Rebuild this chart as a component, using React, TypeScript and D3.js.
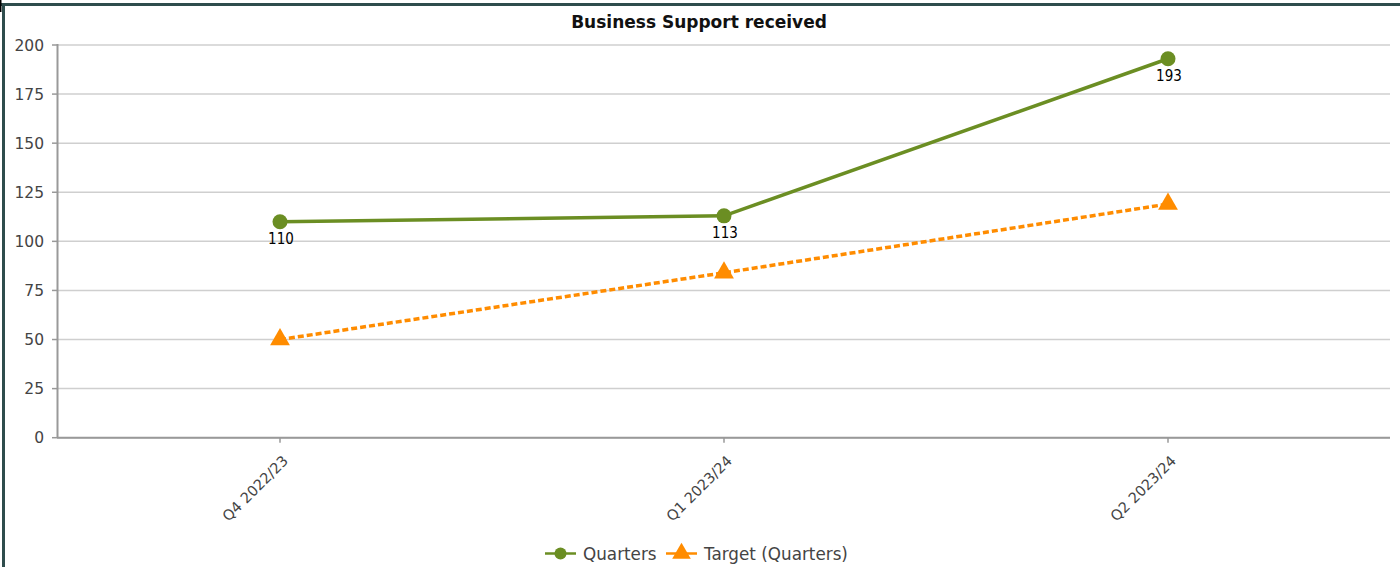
import React from "react";
import * as d3 from "d3";

const title = "Business Support received";
const categories = ["Q4 2022/23", "Q1 2023/24", "Q2 2023/24"];
const quarters = [110, 113, 193];
const target = [50, 84, 119];
const yTicks = [0, 25, 50, 75, 100, 125, 150, 175, 200];
const seriesNames = ["Quarters", "Target (Quarters)"];

const W = 1400;
const H = 567;
const margin = { left: 57, right: 10, top: 45, bottom: 129 };
const GREEN = "#6b8e23";
const ORANGE = "#ff8c00";
const FONT = "'DejaVu Sans', Verdana, sans-serif";

export default function App() {
  const x = d3
    .scaleBand<string>()
    .domain(categories)
    .range([margin.left + 1, W - margin.right])
    .paddingInner(0)
    .paddingOuter(0);
  const y = d3.scaleLinear().domain([0, 200]).range([437.7, 45]);
  const cx = (c: string) => (x(c) as number) + x.bandwidth() / 2;

  const line = d3
    .line<number>()
    .x((_, i) => cx(categories[i]))
    .y((d) => y(d));

  const tri = d3.symbol().type(d3.symbolTriangle).size(170)() as string;
  const triSmall = d3.symbol().type(d3.symbolTriangle).size(150)() as string;

  return (
    <svg
      width={W}
      height={H}
      style={{ position: "absolute", left: 0, top: 0, background: "#fff" }}
      fontFamily={FONT}
    >
      {/* frame */}
      <rect x={0} y={3} width={W} height={3} fill="#2f4d4d" />
      <rect x={2} y={3} width={3} height={H} fill="#2f4d4d" />
      <rect x={0} y={0} width={1.5} height={12} fill="#000" />

      {/* title */}
      <text x={699} y={28} textAnchor="middle" fontWeight="bold" fontSize={17} fill="#111">
        {title}
      </text>

      {/* gridlines */}
      {yTicks.map((t) => (
        <line
          key={"g" + t}
          x1={margin.left}
          x2={W - margin.right}
          y1={y(t)}
          y2={y(t)}
          stroke="#cfcfcf"
          strokeWidth={1.5}
        />
      ))}

      {/* y axis */}
      <line x1={57.5} x2={57.5} y1={y(200) - 1} y2={y(0)} stroke="#999" strokeWidth={2} />
      {yTicks.map((t) => (
        <g key={"yt" + t}>
          <line x1={52} x2={57} y1={y(t)} y2={y(t)} stroke="#999" strokeWidth={1.5} />
          <text
            x={44}
            y={y(t)}
            dy="0.36em"
            textAnchor="end"
            fontSize={15.5}
            fill="#444"
          >
            {t}
          </text>
        </g>
      ))}

      {/* x axis */}
      <line x1={57} x2={W - margin.right} y1={y(0)} y2={y(0)} stroke="#999" strokeWidth={2} />
      {categories.map((c) => (
        <g key={"xt" + c}>
          <line x1={cx(c)} x2={cx(c)} y1={y(0)} y2={y(0) + 5} stroke="#999" strokeWidth={1.5} />
          <text
            transform={`translate(${cx(c) + 9},${y(0) + 24}) rotate(-45)`}
            textAnchor="end"
            fontSize={14.5}
            fill="#444"
          >
            {c}
          </text>
        </g>
      ))}

      {/* target series */}
      <path
        d={line(target) as string}
        fill="none"
        stroke={ORANGE}
        strokeWidth={3.5}
        strokeDasharray="6,3"
      />
      {target.map((v, i) => (
        <path
          key={"tm" + i}
          d={tri}
          transform={`translate(${cx(categories[i])},${y(v)})`}
          fill={ORANGE}
        />
      ))}

      {/* quarters series */}
      <path d={line(quarters) as string} fill="none" stroke={GREEN} strokeWidth={3.5} />
      {quarters.map((v, i) => (
        <g key={"qm" + i}>
          <circle cx={cx(categories[i])} cy={y(v)} r={7.5} fill={GREEN} />
          <text
            x={cx(categories[i]) + 1}
            y={y(v) + 22}
            textAnchor="middle"
            fontSize={15}
            fill="#000"
            style={{ fontStretch: "condensed" }}
            fontFamily="'DejaVu Sans Condensed', 'DejaVu Sans', sans-serif"
          >
            {v}
          </text>
        </g>
      ))}

      {/* legend */}
      <g>
        <line x1={545} x2={576} y1={553.5} y2={553.5} stroke={GREEN} strokeWidth={2.5} />
        <circle cx={560.5} cy={553.5} r={6} fill={GREEN} />
        <text x={583} y={560} fontSize={16.8} fill="#444">
          {seriesNames[0]}
        </text>
        <line x1={666} x2={697} y1={553.5} y2={553.5} stroke={ORANGE} strokeWidth={2.5} />
        <path d={triSmall} transform="translate(681.5,553.5)" fill={ORANGE} />
        <text x={704} y={560} fontSize={16.8} fill="#444">
          {seriesNames[1]}
        </text>
      </g>
    </svg>
  );
}
